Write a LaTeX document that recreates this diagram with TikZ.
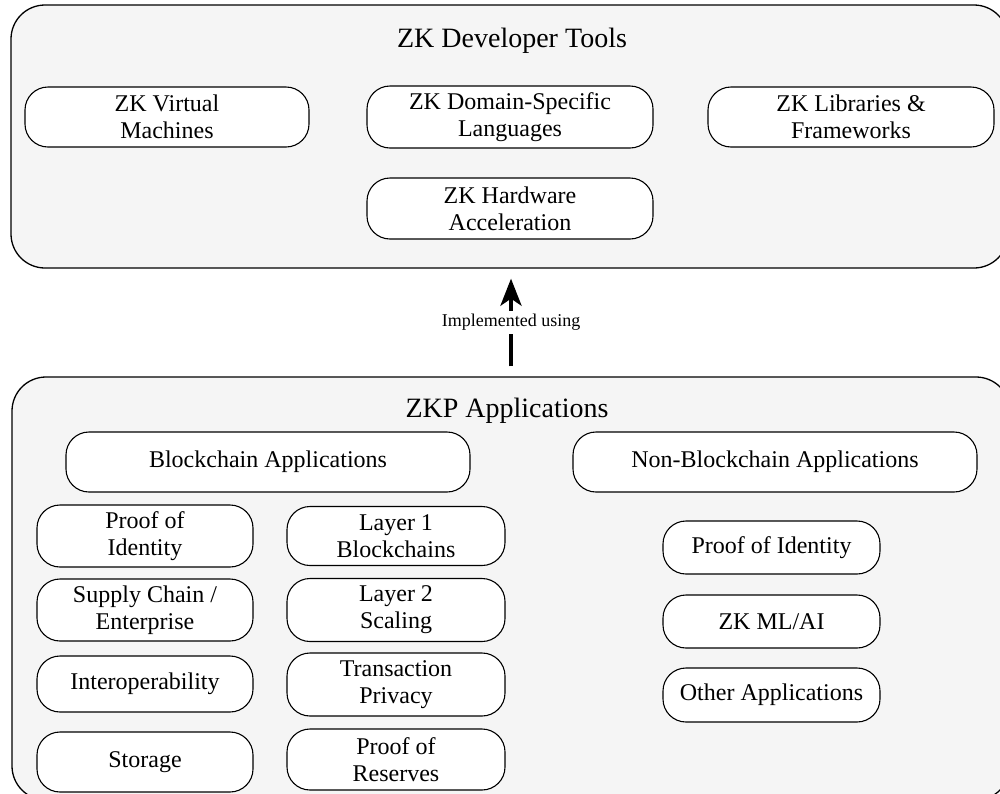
\documentclass[tikz,border=0pt]{standalone}
\usepackage{fontspec}
\setmainfont{Liberation Serif}
\usetikzlibrary{positioning, shapes.geometric, arrows.meta}
\definecolor{panelgray}{HTML}{F5F5F5}
\tikzset{
  panel/.style={draw, fill=panelgray, rounded corners=34pt, line width=1.3pt, inner sep=0pt},
  paneltitle/.style={anchor=base, font=\fontsize{28}{30}\selectfont},
  item/.style={draw, fill=white, rounded corners=23pt, line width=1.1pt, align=center, inner sep=0pt, font=\fontsize{24}{27}\selectfont},
  implarrow/.style={-{Stealth[length=27pt, width=21pt, inset=7pt]}, line width=4pt, shorten <=10pt, shorten >=10pt},
}

\begin{document}
\begin{tikzpicture}[x=1pt, y=-1pt]
  \clip (0,0) rectangle (1000,793);

  % developer tools
  \node[panel, minimum width=997pt, minimum height=263pt] (tools) at (509.5,136.5) {};
  \node[paneltitle] (toolstitle) at (512,47) {ZK Developer Tools};
  \node[item, minimum width=284pt, minimum height=60pt] (vm) at (167,117) {ZK Virtual\\Machines};
  \node[item, minimum width=286pt, minimum height=62pt] (dsl) at (510,117) {ZK Domain-Specific\\Languages};
  \node[item, minimum width=286pt, minimum height=60pt] (libs) at (851,117) {ZK Libraries \&\\Frameworks};
  \node[item, minimum width=286pt, minimum height=61pt] (hwacc) at (510,208.5) {ZK Hardware\\Acceleration};

  % applications
  \node[panel, minimum width=998pt, minimum height=423pt] (apps) at (511,588.5) {};
  \node[paneltitle] (appstitle) at (507,417) {ZKP Applications};
  \node[item, minimum width=404pt, minimum height=60pt] (bcapps) at (268,462) {Blockchain Applications};
  \node[item, minimum width=404pt, minimum height=60pt] (nbcapps) at (775,462) {Non-Blockchain Applications};

  \node[item, minimum width=216pt, minimum height=62pt] (bcid) at (145,536) {Proof of\\Identity};
  \node[item, minimum width=216pt, minimum height=62pt] (supply) at (145,610) {Supply Chain /\\Enterprise};
  \node[item, minimum width=216pt, minimum height=56pt] (interop) at (145,684) {Interoperability};
  \node[item, minimum width=216pt, minimum height=60pt] (storage) at (145,762) {Storage};

  \node[item, minimum width=218pt, minimum height=59pt] (layer1) at (396,536) {Layer 1\\Blockchains};
  \node[item, minimum width=218pt, minimum height=63pt] (layer2) at (396,610) {Layer 2\\Scaling};
  \node[item, minimum width=218pt, minimum height=63pt] (txpriv) at (396,684.5) {Transaction\\Privacy};
  \node[item, minimum width=218pt, minimum height=61pt] (reserves) at (396,759.5) {Proof of\\Reserves};

  \node[item, minimum width=217pt, minimum height=53pt] (nbcid) at (771.5,547.5) {Proof of Identity};
  \node[item, minimum width=217pt, minimum height=53pt] (zkml) at (771.5,621.5) {ZK ML/AI};
  \node[item, minimum width=217pt, minimum height=54pt] (otherapps) at (771.5,695) {Other Applications};

  \draw[implarrow] (apps.north) -- (apps.north |- tools.south)
    node[midway, fill=white, inner sep=3pt, font=\fontsize{18}{20}\selectfont] (impl) {Implemented using};
\end{tikzpicture}
\end{document}
